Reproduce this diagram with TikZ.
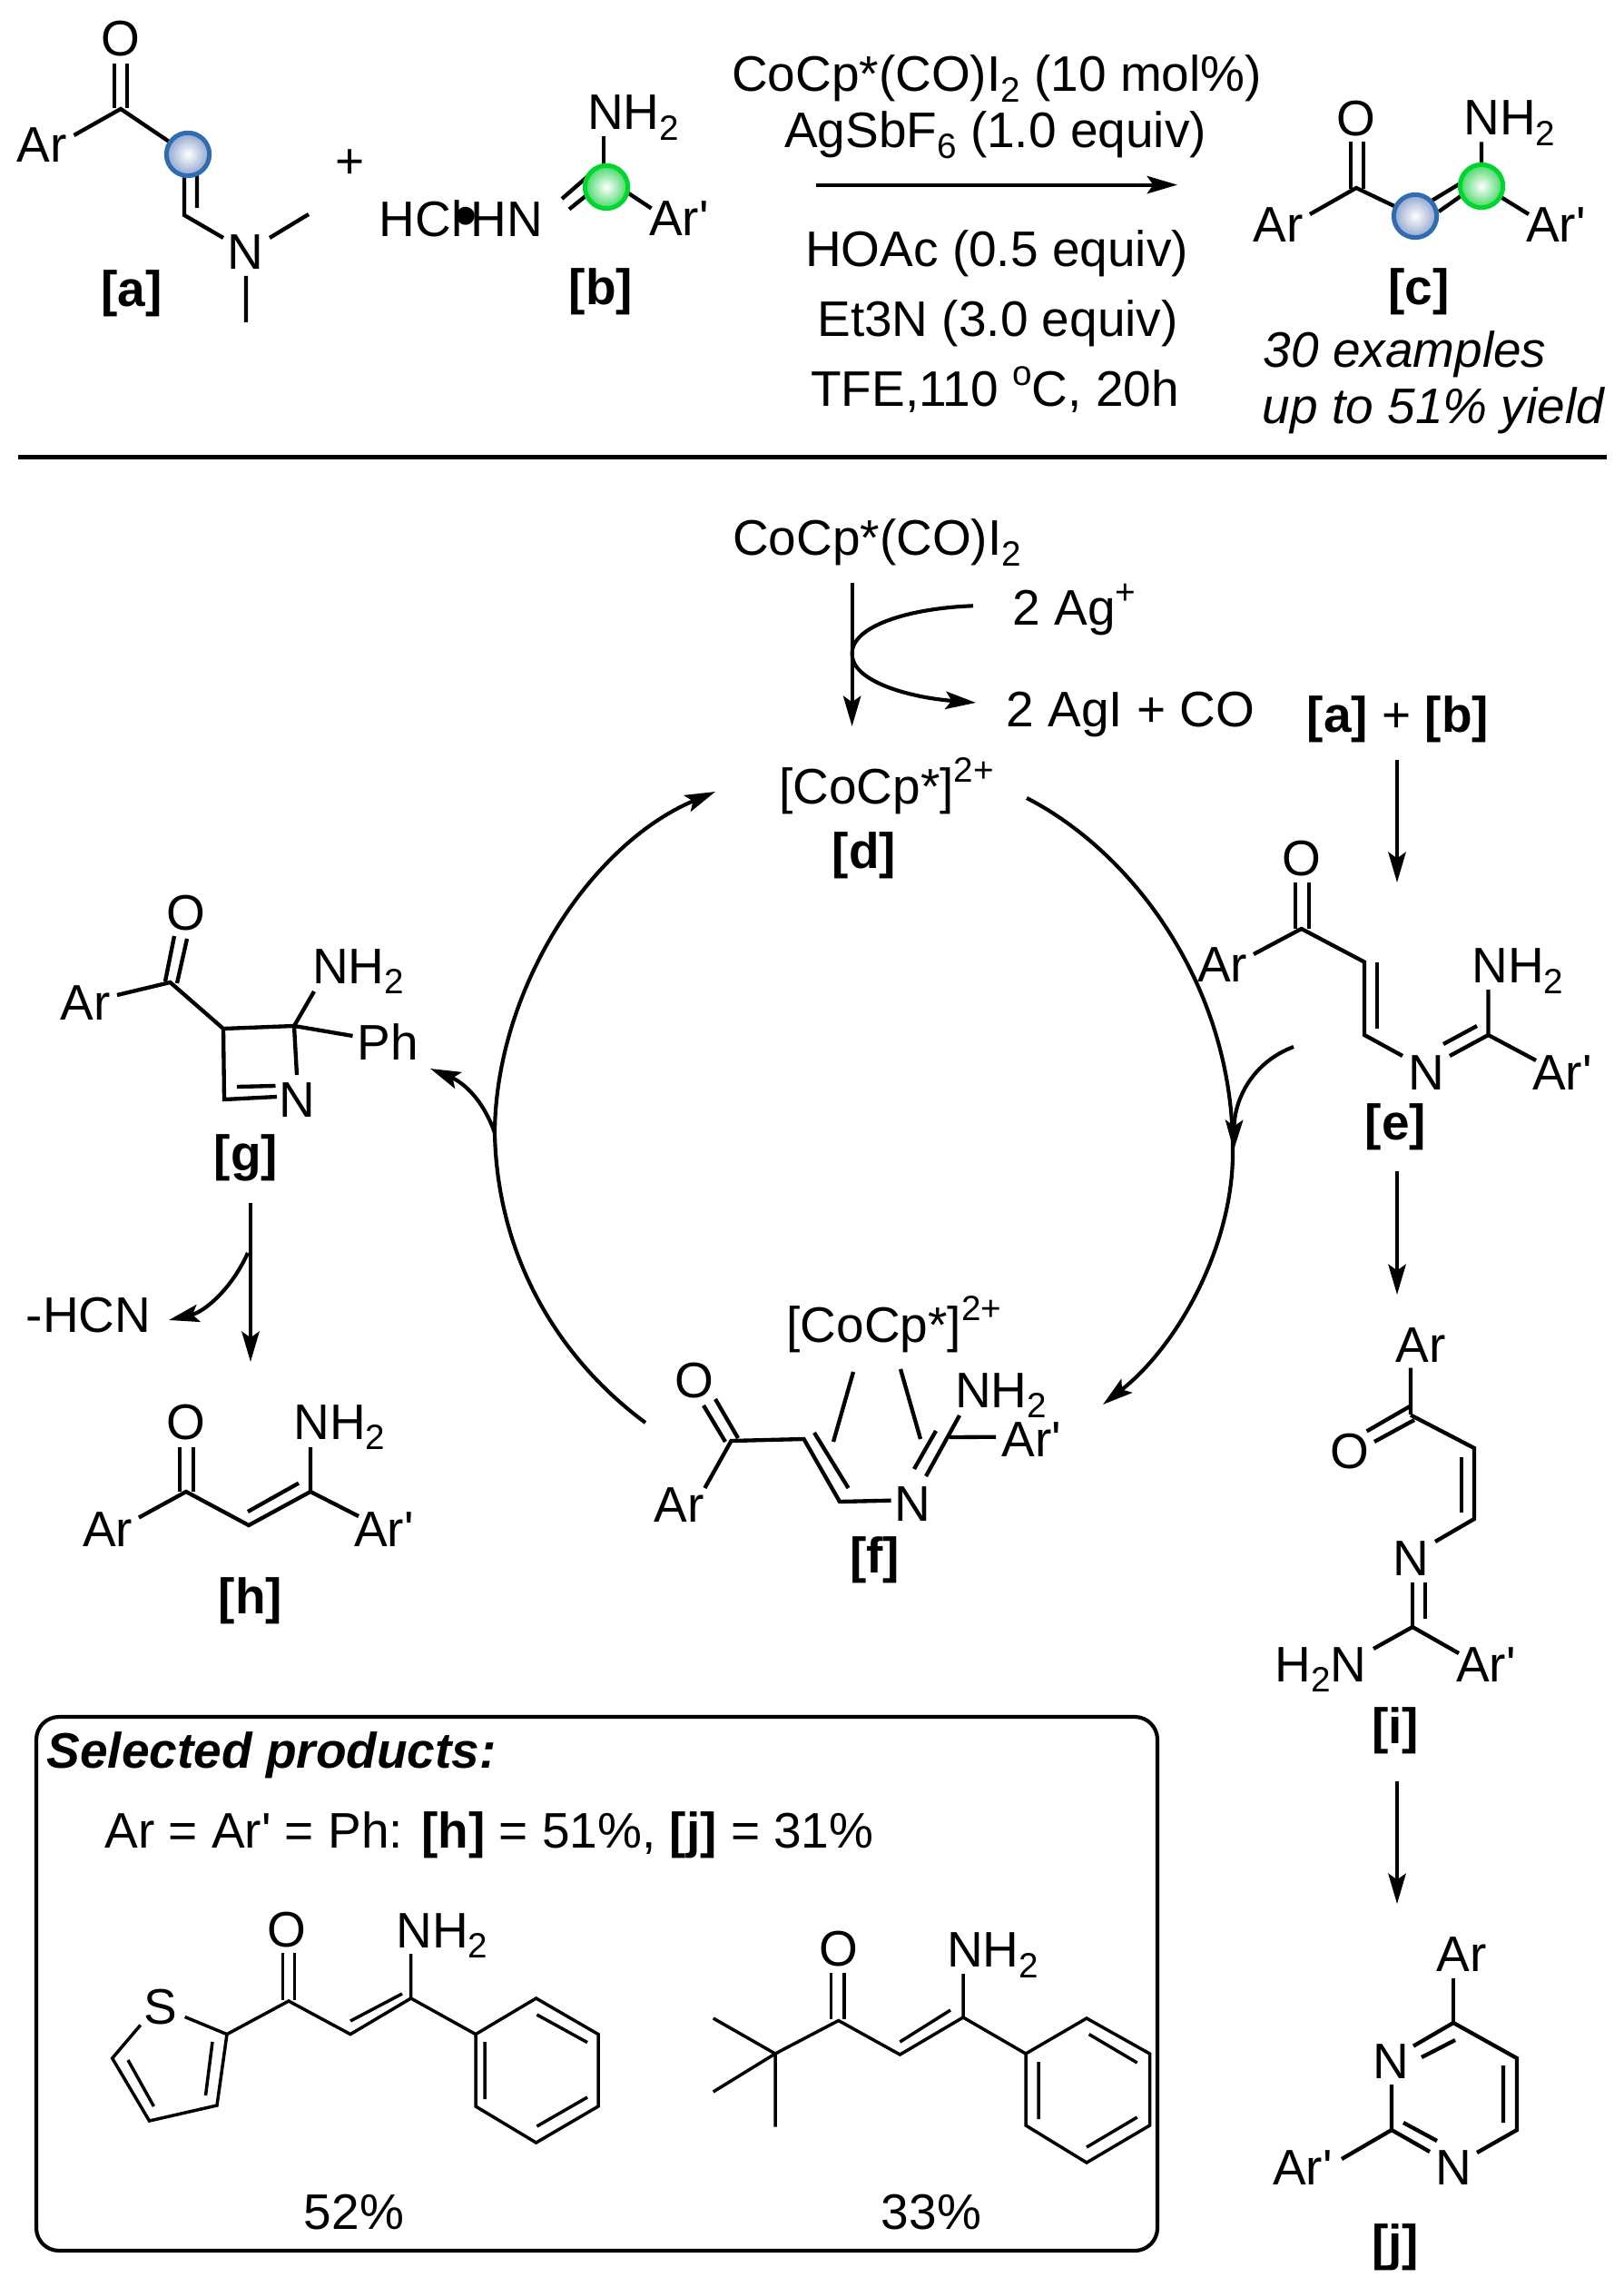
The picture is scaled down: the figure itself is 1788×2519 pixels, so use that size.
\documentclass[tikz,border=0pt]{standalone}
\usepackage{fontspec}
\usetikzlibrary{arrows.meta}
\newfontfamily\lib{Liberation Sans}
\newcommand{\sbs}[1]{\raisebox{-0.21em}{\fontsize{11.6}{12}\selectfont #1}}
\newcommand{\sps}[1]{\raisebox{0.42em}{\fontsize{11.6}{12}\selectfont #1}}
\definecolor{ballblue}{HTML}{2F6CB0}
\definecolor{ballbluefill}{HTML}{8FA5CC}
\definecolor{ballgreen}{HTML}{00D62E}
\definecolor{ballgreenfill}{HTML}{45D865}
\tikzset{
  txt/.style={font=\lib\fontsize{16.5}{19}\selectfont, inner sep=0pt, anchor=base},
  lab/.style={txt, font=\lib\bfseries\fontsize{16.5}{19}\selectfont},
  ital/.style={txt, font=\lib\itshape\fontsize{16.5}{19}\selectfont},
  head/.style={txt, font=\lib\bfseries\itshape\fontsize{16.5}{19}\selectfont},
  bond/.style={draw=black, line width=1.3pt, line join=miter},
  thinbond/.style={draw=black, line width=1.05pt, line join=miter},
  rule/.style={draw=black, line width=1.25pt},
  arr/.style={draw=black, line width=1.25pt, -{Stealth[length=10pt,width=5.8pt,inset=2pt]}},
  curve/.style={draw=black, line width=1.25pt},
  bblue/.style={circle, inner sep=0pt, minimum size=14.2pt, draw=ballblue, line width=1.5pt, inner color=white, outer color=ballbluefill},
  bgreen/.style={circle, inner sep=0pt, minimum size=14.2pt, draw=ballgreen, line width=1.5pt, inner color=white, outer color=ballgreenfill},
}
\begin{document}
\begin{tikzpicture}[x=0.3pt,y=-0.3pt]
\useasboundingbox (0,0) rectangle (1788,2519);
% ---------- top scheme: a
\node[txt] (aO) at (133,62) {O};
\node[txt] (aAr) at (46,179) {Ar};
\node[txt] (aN) at (270,297) {N};
\node[lab] (aL) at (145,338) {[a]};
\draw[bond] (126,70) -- (126,119) (140,70) -- (140,119);
\draw[bond] (81.5,149) -- (133,120) -- (207,170);
\draw[bond] (217,180) -- (217,229) (203,180) -- (203,237) -- (246,262);
\draw[bond] (297,262) -- (340,236) (271,304) -- (271,355);
\node[bblue] (aB) at (207,170) {};
\node[txt] (plus) at (386,197) {+};
% b
\node[txt] (bN) at (697.5,142.6) {NH\sbs{2}};
\node[txt,anchor=base west] (bH) at (417,260.7) {HCl\makebox[2.7pt]{\raisebox{-0.5pt}{\fontsize{22}{22}\selectfont •}}HN};
\node[txt] (bAr) at (748,259.4) {Ar'};
\node[lab] (bL) at (662,335.6) {[b]};
\draw[bond] (665,150) -- (665,190);
\draw[bond] (619,219) -- (650,192) (627,230.5) -- (650,212);
\draw[bond] (685,208) -- (717.5,229.5);
\node[bgreen] (bB) at (668,206) {};
% conditions
\node[txt] (c1) at (1098,101) {CoCp*(CO)I\sbs{2} (10 mol\%)};
\node[txt] (c2) at (1096.5,163) {AgSbF\sbs{6} (1.0 equiv)};
\coordinate (rs) at (899,203.6);
\coordinate (re) at (1297,203.6);
\draw[arr] (rs) -- (re);
\node[txt] (c3) at (1098,293.5) {HOAc (0.5 equiv)};
\node[txt] (c4) at (1099,370.5) {Et3N (3.0 equiv)};
\node[txt] (c5) at (1096,448) {TFE,110 \sps{o}C, 20h};
% c
\node[txt] (cO) at (1494,150) {O};
\node[txt] (cN) at (1663,149) {NH\sbs{2}};
\node[txt] (cAr) at (1408,267) {Ar};
\node[txt] (cAp) at (1714,267) {Ar'};
\node[lab] (cL) at (1563,336) {[c]};
\node[ital] (cE1) at (1547.5,405) {30 examples};
\node[ital] (cE2) at (1579,467) {up to 51\% yield};
\draw[bond] (1488,156) -- (1488,208) (1502,156) -- (1502,208);
\draw[bond] (1443,236) -- (1494,207) -- (1559,238);
\draw[bond] (1578,220.5) -- (1612,200) (1585,233) -- (1612,214);
\draw[bond] (1632,156.5) -- (1632,190) (1650,215) -- (1684,236);
\node[bblue] (cB1) at (1559,238) {};
\node[bgreen] (cB2) at (1632,205) {};
\draw[rule] (20,503.5) -- (1770,503.5);
% ---------- catalyst activation
\node[txt] (pre) at (966,611.7) {CoCp*(CO)I\sbs{2}};
\node[txt] (ag) at (1183.5,688.3) {2 Ag\sps{+}};
\node[txt] (agi) at (1245.5,800) {2 AgI + CO};
\node[txt] (ab) at (1540,806) {\textbf{[a]} + \textbf{[b]}};
\node[txt] (dT) at (976.5,885) {[CoCp*]\sps{2+}};
\node[lab] (dL) at (952,956.7) {[d]};
\coordinate (pa) at (938.6,641.7);
\coordinate (pb) at (938.6,800);
\draw[arr] (pa) -- (pb);
\coordinate (ca) at (1072,667.3);
\coordinate (cm) at (938.6,720);
\coordinate (cb) at (1075,774);
\draw[curve] (ca) .. controls (1000,670) and (938,690) .. (cm);
\draw[arr] (cm) .. controls (938,750) and (1000,768) .. (cb);
% ---------- cycle
\coordinate (rA) at (1131,879);
\coordinate (rB) at (1358,1270);
\coordinate (rC) at (1215,1547);
\coordinate (lA) at (711,1567);
\coordinate (lB) at (545,1248);
\coordinate (lC) at (788,872);
\coordinate (gT) at (474,1177);
\coordinate (sA) at (1425,1153);
\coordinate (sB) at (1359,1267);
\draw[curve] (rA) .. controls (1250,940) and (1360,1090) .. (rB);
\draw[arr] (rB) .. controls (1358,1370) and (1300,1480) .. (rC);
\draw[arr] (sA) .. controls (1380,1170) and (1360,1210) .. (sB);
\draw[curve] (lA) .. controls (620,1500) and (548,1390) .. (lB);
\draw[arr] (lB) .. controls (546,1090) and (650,930) .. (lC);
\draw[arr] (lB) .. controls (530,1205) and (505,1190) .. (gT);
% ---------- e
\node[txt] (eO) at (1433.6,964) {O};
\node[txt] (eAr) at (1346.5,1081.5) {Ar};
\node[txt] (eNH) at (1672,1082.5) {NH\sbs{2}};
\node[txt] (eN) at (1571,1200) {N};
\node[txt] (eAp) at (1721,1200) {Ar'};
\node[lab] (eL) at (1537.5,1255) {[e]};
\coordinate (abA) at (1539,837);
\coordinate (abB) at (1539,972);
\draw[arr] (abA) -- (abB);
\draw[bond] (1427,972) -- (1427,1023) (1442,972) -- (1442,1023);
\draw[bond] (1381,1051) -- (1433.6,1023) -- (1503,1059.6) -- (1503,1140) -- (1545,1163);
\draw[bond] (1517,1059.6) -- (1517,1132.5);
\draw[bond] (1597,1163) -- (1639.5,1140) -- (1692,1168);
\draw[bond] (1590,1150) -- (1627,1130) (1639.5,1090) -- (1639.5,1140);
\coordinate (eA) at (1539,1290);
\coordinate (eB) at (1539,1426);
\draw[arr] (eA) -- (eB);
% ---------- i
\node[txt] (iAr) at (1565,1500) {Ar};
\node[txt] (iO) at (1487,1617) {O};
\node[txt] (iN) at (1554.5,1735) {N};
\node[txt] (iNH) at (1455,1852) {H\sbs{2}N};
\node[txt] (iAp) at (1637,1852) {Ar'};
\node[lab] (iL) at (1537,1920) {[i]};
\draw[bond] (1554,1506.5) -- (1554,1558) (1558,1564) -- (1514,1588) (1553,1549) -- (1505.6,1576.4);
\draw[bond] (1554,1558.6) -- (1624,1595) -- (1624,1673) -- (1581,1698);
\draw[bond] (1610,1604.5) -- (1610,1666);
\draw[bond] (1556,1743) -- (1556,1792) (1570,1743) -- (1570,1783);
\draw[bond] (1513,1816) -- (1556,1792) -- (1607,1821);
\coordinate (iA) at (1539,1962);
\coordinate (iB) at (1539,2097);
\draw[arr] (iA) -- (iB);
% ---------- j
\node[txt] (jAr) at (1610,2171) {Ar};
\node[txt] (jN1) at (1532.5,2289) {N};
\node[txt] (jN2) at (1601.5,2406.6) {N};
\node[txt] (jAp) at (1435,2406.6) {Ar'};
\node[lab] (jL) at (1537,2489) {[j]};
\draw[bond] (1601,2179) -- (1601,2228);
\draw[bond] (1557,2253.6) -- (1601,2228) -- (1671,2267) -- (1671,2346) -- (1627,2371);
\draw[bond] (1656,2275) -- (1656,2338) (1566,2266) -- (1603,2247);
\draw[bond] (1533,2296) -- (1533,2346) -- (1575,2370) (1546,2338) -- (1583,2358);
\draw[bond] (1478,2378) -- (1533,2346);
% ---------- f
\node[txt] (fT) at (985,1478) {[CoCp*]\sps{2+}};
\node[txt] (fO) at (765,1539.5) {O};
\node[txt] (fAr) at (748,1676) {Ar};
\node[txt] (fN) at (1005,1675) {N};
\node[txt] (fNH) at (1102.5,1550) {NH\sbs{2}};
\node[txt] (fAp) at (1136.5,1604) {Ar'};
\node[lab] (fL) at (963.5,1732) {[f]};
\draw[bond] (775,1548) -- (799,1588) (788,1541) -- (813,1584);
\draw[bond] (776.4,1639) -- (805.5,1587) -- (885.5,1585) -- (925,1654) -- (981.6,1652.7);
\draw[bond] (897,1578) -- (934.5,1639);
\draw[bond] (1020,1626) -- (1057,1559) (1007,1618) -- (1031,1576);
\draw[bond] (1045.5,1583) -- (1097,1582.7);
\draw[bond] (940,1511) -- (918,1588) (992,1508) -- (1014,1585);
% ---------- g
\node[txt] (gO) at (205,1024) {O};
\node[txt] (gAr) at (94,1123.5) {Ar};
\node[txt] (gNH) at (394.5,1083) {NH\sbs{2}};
\node[txt] (gPh) at (427,1167) {Ph};
\node[txt] (gN) at (327.5,1230) {N};
\node[lab] (gL) at (271,1289) {[g]};
\draw[bond] (192,1031) -- (182,1081) (206,1034) -- (195,1083);
\draw[bond] (129,1096) -- (187.5,1082) -- (246,1133) -- (324,1130) -- (346,1092);
\draw[bond] (324,1130) -- (388.5,1141) (324,1130) -- (327,1184);
\draw[bond] (246,1133) -- (247,1211) -- (305,1208) (261,1197) -- (303.5,1196);
\coordinate (gA) at (276,1325);
\coordinate (gB) at (276,1500);
\draw[arr] (gA) -- (gB);
\coordinate (hA) at (273,1380);
\coordinate (hB) at (186,1454);
\draw[arr] (hA) .. controls (255,1420) and (225,1445) .. (hB);
\node[txt] (hcn) at (97.5,1467) {-HCN};
% ---------- h
\node[txt] (hO) at (205,1585) {O};
\node[txt] (hAr) at (118.5,1703) {Ar};
\node[txt] (hNH) at (374,1585) {NH\sbs{2}};
\node[txt] (hAp) at (423,1703) {Ar'};
\node[lab] (hL) at (276,1777) {[h]};
\draw[bond] (198,1594) -- (198,1643) (213,1594) -- (213,1643);
\draw[bond] (153,1671.5) -- (205,1643) -- (274,1680) -- (342,1643) -- (395,1670);
\draw[bond] (273,1665) -- (329,1633.6) (342,1594) -- (342,1643);
% ---------- box
\draw[rule, rounded corners=7.5pt] (40,1891) rectangle (1275,2479);
\node[head,anchor=base west] (bxT) at (51,1947) {Selected products:};
\node[txt] (bxA) at (539,2035) {Ar = Ar' = Ph: \textbf{[h]} = 51\%, \textbf{[j]} = 31\%};
\node[txt] (y1) at (390,2455) {52\%};
\node[txt] (y2) at (1026,2455) {33\%};
% molecule 1
\node[txt] (m1O) at (316,2144) {O};
\node[txt] (m1N) at (487,2145) {NH\sbs{2}};
\node[txt] (m1S) at (176.5,2229.6) {S};
\draw[thinbond] (311.4,2151) -- (311.4,2203) (324.5,2151) -- (324.5,2203);
\draw[thinbond] (250,2240.6) -- (318,2204) -- (386,2240.6) -- (452.7,2201) -- (524,2240.6);
\draw[thinbond] (386,2226) -- (443,2196) (452.7,2152) -- (452.7,2201);
\draw[thinbond] (524,2240.6) -- (590.6,2201) -- (659,2240.6) -- (659,2320) -- (590.6,2360) -- (524,2320) -- cycle;
\draw[thinbond] (591.4,2219) -- (647,2249.6) (647,2310) -- (591.4,2342) (534,2312) -- (534,2249);
\draw[thinbond] (203.7,2221.5) -- (250,2240.6) -- (239,2319) -- (164.5,2336) -- (123.7,2267) -- (154.7,2230.5);
\draw[thinbond] (234,2249) -- (226.5,2308) (141,2269) -- (169.4,2320);
% molecule 2
\node[txt] (m2O) at (923.7,2165) {O};
\node[txt] (m2N) at (1093.5,2166.5) {NH\sbs{2}};
\draw[thinbond] (915.5,2173.4) -- (915.5,2224) (930,2173.4) -- (930,2224);
\draw[thinbond] (854,2262) -- (923.7,2225.5) -- (991.4,2263) -- (1061,2222) -- (1130,2262);
\draw[thinbond] (991.4,2249) -- (1047,2214) (1061,2174) -- (1061,2222);
\draw[thinbond] (785.7,2223) -- (854,2262) -- (785.7,2304) (854,2262) -- (854,2342.5);
\draw[thinbond] (1130,2262) -- (1197,2223) -- (1266.5,2262) -- (1266.5,2341) -- (1197,2382) -- (1130,2341) -- cycle;
\draw[thinbond] (1199.6,2240.6) -- (1252.7,2272) (1252.7,2332) -- (1197,2365) (1144,2334) -- (1144,2271);
\end{tikzpicture}
\end{document}
